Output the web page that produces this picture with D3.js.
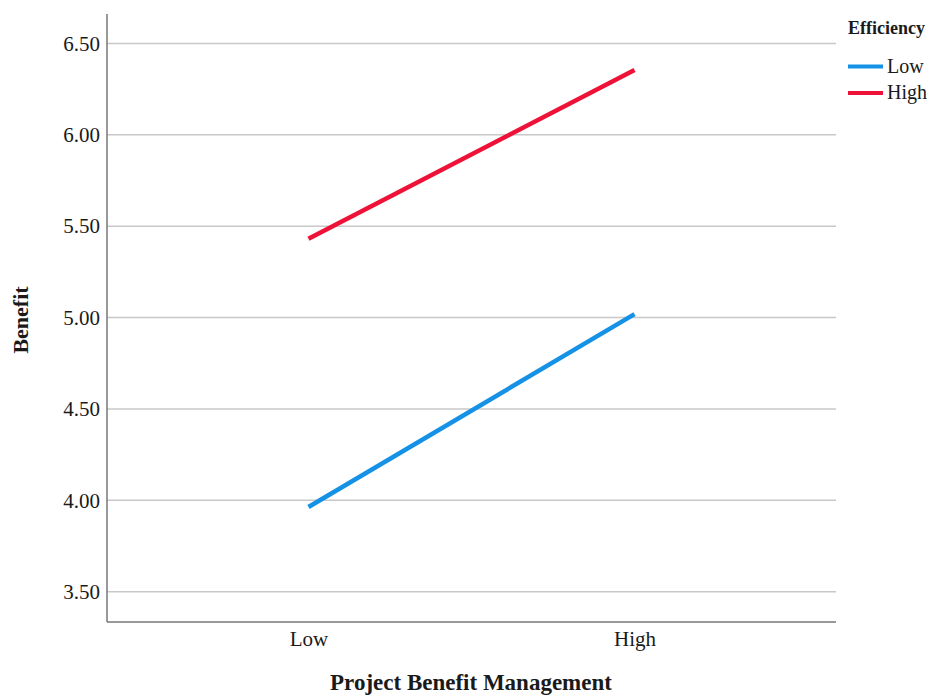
<!DOCTYPE html>
<html><head><meta charset="utf-8">
<script src="https://cdn.jsdelivr.net/npm/d3@7"></script>
<style>body{margin:0;background:#fff}text{font-family:"Liberation Serif",serif;fill:#1a1a1a}</style>
</head><body><svg id="c" width="935" height="698"></svg>
<script>
const categories = ["Low", "High"];
const seriesNames = ["Low", "High"];
const lowValues = [3.963, 5.019];
const highValues = [5.431, 6.355];
const yTicks = [3.5, 4.0, 4.5, 5.0, 5.5, 6.0, 6.5];
const colors = ["#1592e6", "#ee1238"];

const svg = d3.select("#c");
const L = 107, R = 836, T = 14, B = 622;
const y = d3.scaleLinear().domain([3.334, 6.661]).range([B, T]);
const x = d3.scalePoint().domain(categories).range([L, R]).padding(0.618);

// gridlines
svg.append("g").selectAll("line").data(yTicks).join("line")
  .attr("x1", L).attr("x2", R).attr("y1", d => y(d)).attr("y2", d => y(d))
  .attr("stroke", "#c8c8c8").attr("stroke-width", 1.5);

// y axis
const ya = svg.append("g").attr("transform", `translate(${L},0)`)
  .call(d3.axisLeft(y).tickValues(yTicks).tickFormat(d3.format(".2f")).tickSize(0).tickPadding(7));
ya.select(".domain").attr("stroke", "#777").attr("stroke-width", 1.5).attr("d", `M0,${T}V${B}`);
ya.selectAll("text").style("font-size", "21px").style("font-family", "Liberation Serif").attr("fill", "#1a1a1a");

// x axis
const xa = svg.append("g").attr("transform", `translate(0,${B})`)
  .call(d3.axisBottom(x).tickSize(0).tickPadding(9));
xa.select(".domain").attr("stroke", "#777").attr("stroke-width", 1.5).attr("d", `M${L},0H${R}`);
xa.selectAll("text").style("font-size", "21px").style("font-family", "Liberation Serif").attr("fill", "#1a1a1a");

// lines
const series = [lowValues, highValues];
const line = d3.line().x((d, i) => x(categories[i])).y(d => y(d));
svg.append("g").selectAll("path").data(series).join("path")
  .attr("d", d => line(d)).attr("fill", "none")
  .attr("stroke", (d, i) => colors[i]).attr("stroke-width", 4.5);

// axis titles
svg.append("text").attr("x", 471).attr("y", 690).attr("text-anchor", "middle")
  .style("font-size", "23px").style("font-weight", "bold").text("Project Benefit Management");
svg.append("text").attr("transform", "translate(28,320) rotate(-90)").attr("text-anchor", "middle")
  .style("font-size", "22px").style("font-weight", "bold").text("Benefit");

// legend
const lg = svg.append("g");
lg.append("text").attr("x", 848).attr("y", 34).style("font-size", "18px").style("font-weight", "bold").text("Efficiency");
seriesNames.forEach((n, i) => {
  const yy = 66.5 + i * 26.5;
  lg.append("line").attr("x1", 848).attr("x2", 883).attr("y1", yy).attr("y2", yy)
    .attr("stroke", colors[i]).attr("stroke-width", 4);
  lg.append("text").attr("x", 887).attr("y", yy + 6).style("font-size", "20px").text(n);
});
</script></body></html>
